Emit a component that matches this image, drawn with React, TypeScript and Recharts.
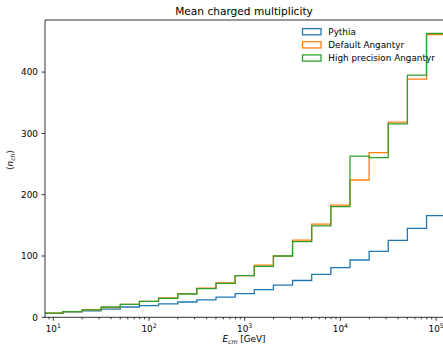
import React from 'react';
import { LineChart, Line, XAxis, YAxis, Legend, ReferenceLine } from 'recharts';

// Bin edges (GeV), 5 log bins per decade
const binEdges = [7.943, 12.59, 19.95, 31.62, 50.12, 79.43, 125.9, 199.5, 316.2, 501.2, 794.3, 1259, 1995, 3162, 5012, 7943, 12589, 19953, 31623, 50119, 79433, 125893];

// Mean charged multiplicity per bin
const pythia = [6.5, 8.8, 10.5, 13.5, 16.8, 19.2, 21.8, 25, 28.5, 33, 38.5, 45, 52.5, 60, 70, 81, 93.5, 107.5, 125.5, 145, 166];
const defaultAngantyr = [6.8, 9.2, 12, 15.8, 21, 26, 31.5, 38.5, 47.5, 56, 68, 85.2, 100, 126, 152, 183, 224, 268.5, 318.5, 388.5, 461];
const highPrecisionAngantyr = [6.8, 9.2, 12, 16.8, 21, 26, 31, 38, 46.7, 55.5, 68, 83.2, 100, 123.5, 149, 180.5, 263, 260.5, 315.5, 395, 463];

const seriesNames = ['Pythia', 'Default Angantyr', 'High precision Angantyr'];
const seriesColors = ['#1f77b4', '#ff7f0e', '#2ca02c'];

const majorXTicks = [10, 100, 1000, 10000, 100000];
const majorXExp = ['1', '2', '3', '4', '5'];
const minorXTicks = [
  9,
  20, 30, 40, 50, 60, 70, 80, 90,
  200, 300, 400, 500, 600, 700, 800, 900,
  2000, 3000, 4000, 5000, 6000, 7000, 8000, 9000,
  20000, 30000, 40000, 50000, 60000, 70000, 80000, 90000,
];
const yTicks = [0, 100, 200, 300, 400];

const data = binEdges.map((x, i) => {
  const k = Math.min(i, pythia.length - 1);
  return {
    x,
    pythia: pythia[k],
    def: defaultAngantyr[k],
    hp: highPrecisionAngantyr[k],
  };
});

const FONT = '"DejaVu Sans", sans-serif';
const FS = 8.85;

const XTick = (props: any) => {
  const { x, y, payload } = props;
  const idx = majorXTicks.indexOf(payload.value);
  const major = idx >= 0;
  return (
    <g>
      <line x1={x} x2={x} y1={y} y2={y + (major ? 3.5 : 2)} stroke="#000" strokeWidth={0.8} />
      {major && (
        <text x={x} y={y + 14.4} textAnchor="middle" fontSize={FS} fontFamily={FONT} fill="#000">
          10<tspan fontSize={6.2} dy={-3.8}>{majorXExp[idx]}</tspan>
        </text>
      )}
    </g>
  );
};

const YTick = (props: any) => {
  const { x, y, payload } = props;
  return (
    <g>
      <line x1={x - 3.5} x2={x} y1={y} y2={y} stroke="#000" strokeWidth={0.8} />
      <text x={x - 7} y={y + 3.2} textAnchor="end" fontSize={FS} fontFamily={FONT} fill="#000">
        {payload.value}
      </text>
    </g>
  );
};

const LegendContent = () => (
  <svg width={450} height={345} style={{ position: 'absolute', left: 0, top: 0, overflow: 'visible' }}>
    <text x={244} y={15} textAnchor="middle" fontSize={10.6} fontFamily={FONT} fill="#000">
      Mean charged multiplicity
    </text>
    {seriesNames.map((name, i) => (
      <g key={name}>
        <rect x={302.5} y={28.6 + i * 13.15} width={18.5} height={6.2} fill="none" stroke={seriesColors[i]} strokeWidth={1.3} />
        <text x={328.3} y={34.9 + i * 13.15} fontSize={FS} fontFamily={FONT} fill="#000">
          {name}
        </text>
      </g>
    ))}
  </svg>
);

const XLabel = () => (
  <text x={244} y={342} textAnchor="middle" fontSize={FS} fontFamily={FONT} fill="#000">
    <tspan fontStyle="italic">E</tspan>
    <tspan fontStyle="italic" fontSize={6.2} dy={1.8}>cm</tspan>
    <tspan dy={-1.8}> [GeV]</tspan>
  </text>
);

const YLabel = () => (
  <text x={13} y={160} textAnchor="middle" fontSize={FS} fontFamily={FONT} fill="#000" transform="rotate(-90 13 160)">
    ⟨<tspan fontStyle="italic">n</tspan>
    <tspan fontStyle="italic" fontSize={6.2} dy={1.8}>ch</tspan>
    <tspan dy={-1.8}>⟩</tspan>
  </text>
);

export default function App() {
  return (
    <div style={{ position: 'absolute', left: 0, top: 0, width: 443, height: 345, overflow: 'hidden', background: '#fff' }}>
      <LineChart width={450} height={345} data={data} margin={{ top: 20, right: 6, bottom: 0, left: 0 }}>
        <XAxis
          dataKey="x"
          type="number"
          scale="log"
          domain={[8.19, 120900]}
          allowDataOverflow
          ticks={[...minorXTicks, ...majorXTicks]}
          interval={0}
          tick={<XTick />}
          tickLine={false}
          tickSize={0}
          tickMargin={0}
          height={27.7}
          axisLine={{ stroke: '#000', strokeWidth: 0.8 }}
          label={<XLabel />}
        />
        <YAxis
          type="number"
          domain={[0, 485]}
          allowDataOverflow
          ticks={yTicks}
          interval={0}
          tick={<YTick />}
          tickLine={false}
          tickSize={0}
          tickMargin={0}
          width={45}
          axisLine={{ stroke: '#000', strokeWidth: 0.8 }}
          label={<YLabel />}
        />
        <ReferenceLine y={485} stroke="#000" strokeWidth={0.8} ifOverflow="visible" />
        <Line dataKey="pythia" name={seriesNames[0]} type="stepAfter" stroke={seriesColors[0]} strokeWidth={1.3} dot={false} activeDot={false} isAnimationActive={false} />
        <Line dataKey="def" name={seriesNames[1]} type="stepAfter" stroke={seriesColors[1]} strokeWidth={1.3} dot={false} activeDot={false} isAnimationActive={false} />
        <Line dataKey="hp" name={seriesNames[2]} type="stepAfter" stroke={seriesColors[2]} strokeWidth={1.3} dot={false} activeDot={false} isAnimationActive={false} />
        <Legend
          layout="horizontal"
          verticalAlign="middle"
          align="center"
          content={<LegendContent />}
          wrapperStyle={{ position: 'absolute', left: 0, top: 0, width: 450, height: 345, pointerEvents: 'none' }}
        />
      </LineChart>
    </div>
  );
}
